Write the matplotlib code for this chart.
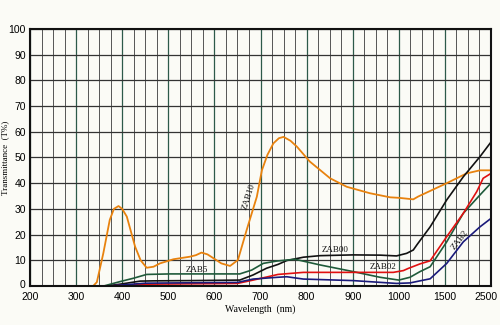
import numpy as np
import matplotlib
matplotlib.use("Agg")
import matplotlib.pyplot as plt
from matplotlib.transforms import ScaledTranslation

# transmittance curves, wavelength in nm / T in %
zab10_wl = [337, 345, 359, 373, 382, 392, 400, 410, 428, 440, 453, 468, 482, 511, 547, 560, 572,
            585, 598, 615, 634, 651, 670, 692, 703, 715, 728, 740, 750, 765, 779, 807, 851, 887,
            937, 981, 1000, 1080, 1157, 1210, 1540, 1970, 2260, 2500]
zab10_t = [0, 1.5, 12.7, 25.7, 30, 31.1, 30, 27, 15.3, 10, 7.1, 7.5, 8.8, 10.4, 11.4, 12, 13,
           12.3, 10.8, 8.8, 7.8, 10.1, 21.8, 34.7, 45, 51, 55.5, 57.5, 58, 56.5, 54.2, 48.4, 41.9, 38.6,
           36.1, 34.5, 34.3, 34, 33.7, 34.8, 40, 43.8, 45, 45]

zab00_wl = [365, 395, 439, 467, 550, 655, 684, 713, 738, 757, 793, 829, 901, 960, 995, 1085,
            1157, 1200, 1340, 1540, 1900, 2260, 2500]
zab00_t = [0, 0.7, 1.9, 2, 2.1, 2.3, 4.3, 6.9, 8.4, 9.9, 11.2, 11.8, 12.1, 12, 11.7, 12.7,
           14, 16.2, 23, 33.5, 42.5, 50.3, 56]

zab5_wl = [360, 395, 424, 453, 504, 655, 681, 706, 735, 775, 829, 901, 959, 1000, 1122, 1230,
           1340, 1540, 1900, 2260, 2500]
zab5_t = [0, 1.7, 3, 4.5, 4.7, 4.7, 6.2, 8.8, 9.7, 10.4, 8.2, 5.6, 3.4, 2.3, 3.4, 5.6,
          7.5, 17.2, 28.3, 35.4, 40]

zab02_wl = [370, 450, 650, 684, 738, 793, 865, 988, 1050, 1100, 1230, 1340, 1540, 1900, 2190,
            2330, 2500]
zab02_t = [0, 0.7, 1, 2.3, 4.5, 5.3, 5.3, 5.3, 6, 6.8, 8.6, 9.8, 19.2, 28.3, 36.7, 41.9, 43.8]

zab2_wl = [370, 450, 650, 684, 738, 757, 793, 901, 995, 1122, 1230, 1340, 1540, 1900, 2260, 2500]
zab2_t = [0, 1.1, 1.4, 2.7, 3.4, 3.6, 2.7, 2.1, 1, 1.2, 2, 2.8, 8.8, 17.2, 23, 26.3]

xticks = [200, 300, 400, 500, 600, 700, 800, 900, 1000, 1500, 2500]
yticks = list(range(0, 101, 10))


# compressed axis above 1000 nm
def fwd(w):
    w = np.asarray(w, dtype=float)
    return np.where(w <= 1000, w, np.where(w <= 1500, 1000 + (w - 1000) / 5, 1100 + (w - 1500) / 10))


def inv(u):
    u = np.asarray(u, dtype=float)
    return np.where(u <= 1000, u, np.where(u <= 1100, 1000 + (u - 1000) * 5, 1500 + (u - 1100) * 10))


bg = "#fbfbf6"
fig = plt.figure(figsize=(5, 3.25), dpi=100, facecolor=bg)
ax = fig.add_axes([0.06, 0.12, 0.922, 0.791], facecolor=bg)
ax.set_xscale("function", functions=(fwd, inv))
ax.set_xlim(200, 2500)
ax.set_ylim(0, 100)

minor = list(range(225, 1000, 25)) + [1125, 1250, 1375, 1750, 2000, 2250]
for w in minor:
    ax.axvline(w, color="#555555", lw=0.7, zorder=1)
for w in xticks:
    ax.axvline(w, color="#2d5a4a", lw=0.9, zorder=1)
for t in yticks:
    ax.axhline(t, color="#333333", lw=0.9, zorder=1)

ax.plot(zab10_wl, zab10_t, color="#e8820e", lw=1.3, zorder=3)
ax.plot(zab00_wl, zab00_t, color="#111111", lw=1.2, zorder=3)
ax.plot(zab5_wl, zab5_t, color="#1f5a3a", lw=1.2, zorder=3)
ax.plot(zab02_wl, zab02_t, color="#e01010", lw=1.2, zorder=3)
ax.plot(zab2_wl, zab2_t, color="#1a1a7a", lw=1.2, zorder=3)

lab = dict(family="Liberation Serif", fontsize=6.5, color="#111111", zorder=4)
ax.text(561, 6.4, "ZAB5", ha="center", va="center", **lab)
ax.text(675, 34.7, "ZAB10", ha="center", va="center", rotation=72, **lab)
ax.text(862, 13.9, "ZAB00", ha="center", va="center", **lab)
ax.text(966, 7.3, "ZAB02", ha="center", va="center", **lab)
ax.text(1830, 17.8, "ZAB2", ha="center", va="center", rotation=52, **lab)

tickfont = ["Liberation Sans", "DejaVu Sans"]
ax.set_xticks(xticks)
ax.set_xticklabels([str(v) for v in xticks], family=tickfont, fontsize=7.5)
ax.set_xticks([], minor=True)
ax.set_yticks(yticks)
ax.set_yticklabels([str(v) for v in yticks], family=tickfont, fontsize=7.5)
ax.tick_params(axis="y", length=0, pad=3)
ax.tick_params(axis="x", length=0, pad=4)

# nudge the last x label inside the figure and the 0 label up a little, like the reference
last = ax.get_xticklabels()[-1]
last.set_transform(last.get_transform() + ScaledTranslation(-5 / 100, 0, fig.dpi_scale_trans))
zero = ax.get_yticklabels()[0]
zero.set_transform(zero.get_transform() + ScaledTranslation(0, 2 / 100, fig.dpi_scale_trans))

for s in ax.spines.values():
    s.set_linewidth(1.5)
    s.set_color("#111111")
    s.set_zorder(5)

ax.set_xlabel("Wavelength  (nm)", family="Liberation Serif", fontsize=7, labelpad=2)
ax.set_ylabel("Transmittance  (T%)", family="Liberation Serif", fontsize=6.5)
ax.yaxis.set_label_coords(-0.046, 0.5)

fig.savefig("out.png", dpi=100, facecolor=bg)
